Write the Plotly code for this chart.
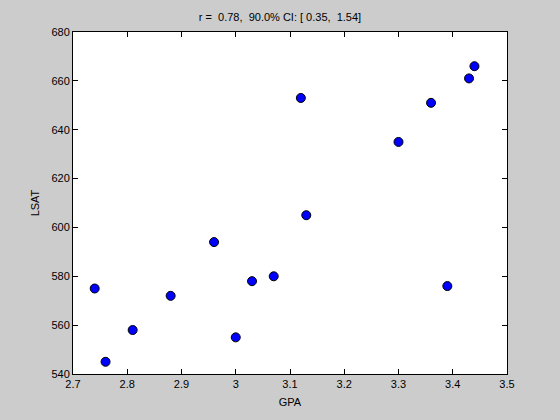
import plotly.graph_objects as go

gpa = [3.39, 3.30, 2.81, 3.03, 3.44, 3.07, 3.00, 3.43, 3.36, 3.13, 3.12, 2.74, 2.76, 2.88, 2.96]
lsat = [576, 635, 558, 578, 666, 580, 555, 661, 651, 605, 653, 575, 545, 572, 594]
x_ticks = [2.7, 2.8, 2.9, 3.0, 3.1, 3.2, 3.3, 3.4, 3.5]
x_tick_labels = ["2.7", "2.8", "2.9", "3", "3.1", "3.2", "3.3", "3.4", "3.5"]
y_ticks = [540, 560, 580, 600, 620, 640, 660, 680]
title_text = "r =  0.78,  90.0% CI: [ 0.35,  1.54]"

fig = go.Figure(go.Scatter(
    x=gpa, y=lsat, mode="markers",
    marker=dict(color="#0000ff", size=9, line=dict(color="black", width=1)),
))

font = dict(family="Liberation Sans, Arial", size=11, color="black")
axis_common = dict(
    showgrid=False, zeroline=False, showline=True, linecolor="black", linewidth=1,
    mirror="ticks", ticks="inside", ticklen=5, tickcolor="black",
    tickfont=font, automargin=False,
)
fig.update_xaxes(range=[2.7, 3.5], tickvals=x_ticks, ticktext=x_tick_labels,
                 title=dict(text="GPA", standoff=9, font=font), **axis_common)
fig.update_yaxes(range=[540, 680], tickvals=y_ticks,
                 title=dict(text="LSAT", standoff=9, font=font), **axis_common)
fig.update_layout(
    width=560, height=420,
    margin=dict(l=73, r=53, t=32, b=46),
    paper_bgcolor="#cccccc", plot_bgcolor="white",
    showlegend=False,
    title=dict(text=title_text, x=0.5, xanchor="center", y=1 - 17/420, yanchor="middle",
               font=font),
)
fig.write_html("out.html", config={"displayModeBar": False},
               post_script="document.body.style.margin='0';document.body.style.background='#cccccc';")
